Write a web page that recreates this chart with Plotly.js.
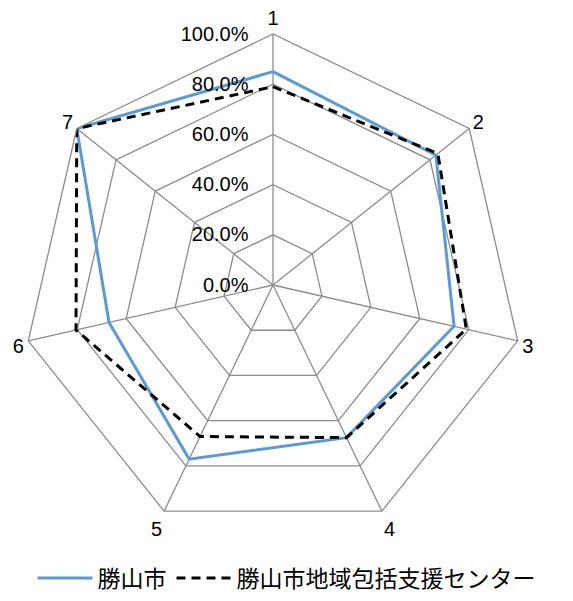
<!DOCTYPE html>
<html><head><meta charset="utf-8">
<script src="https://cdn.plot.ly/plotly-3.0.1.min.js"></script>
<style>html,body{margin:0;padding:0;background:#fff;}#chart{width:573px;height:601px;}</style>
</head><body><div id="chart"></div>
<script>
const categories = ['1','2','3','4','5','6','7'];
const seriesNames = ['勝山市', '勝山市地域包括支援センター'];
const katsuyama = [0.85, 0.83, 0.74, 0.675, 0.77, 0.67, 1.0];
const center = [0.79, 0.84, 0.79, 0.675, 0.67, 0.805, 1.0];
const radialTicks = [0, 0.2, 0.4, 0.6, 0.8, 1.0];

function closeLoop(a){ return a.concat([a[0]]); }
const FONT = 'Liberation Sans, Arial, sans-serif';

const traces = [
  {type:'scatterpolar', mode:'lines', name:seriesNames[0],
   r: closeLoop(katsuyama), theta: closeLoop(categories),
   line:{color:'#5B9BD5', width:3}},
  {type:'scatterpolar', mode:'lines', name:seriesNames[1],
   r: closeLoop(center), theta: closeLoop(categories),
   line:{color:'#000000', width:3, dash:'9px,6px'}}
];
const layout = {
  width:573, height:601,
  margin:{l:0,r:0,t:0,b:0},
  paper_bgcolor:'#fff', plot_bgcolor:'#fff',
  font:{family:FONT, size:20, color:'#000'},
  showlegend:true,
  legend:{orientation:'h', x:0.5, xanchor:'center', y:0.038, yanchor:'middle',
          font:{family:'Noto Sans CJK JP, sans-serif', size:23, color:'#000'}, itemwidth:55},
  polar:{
    domain:{x:[22/573, 524/573], y:[1-536/601, 1-34/601]},
    gridshape:'linear',
    bgcolor:'#fff',
    radialaxis:{range:[0,1], tickvals:radialTicks, tickformat:'.1%', angle:90, tickangle:90,
      side:'counterclockwise', showline:false, ticks:'outside', ticklen:17, tickcolor:'rgba(0,0,0,0)',
      gridcolor:'#8c8c8c', gridwidth:1.3,
      tickfont:{family:FONT, size:20, color:'#000'}},
    angularaxis:{type:'category', categoryarray:categories, rotation:90, direction:'clockwise',
      showline:true, linecolor:'#8c8c8c', linewidth:1.3, gridcolor:'#8c8c8c', gridwidth:1.3,
      ticks:'', tickfont:{family:FONT, size:20, color:'#000'}}
  }
};
Plotly.newPlot('chart', traces, layout, {displayModeBar:false, staticPlot:true});
</script></body></html>
